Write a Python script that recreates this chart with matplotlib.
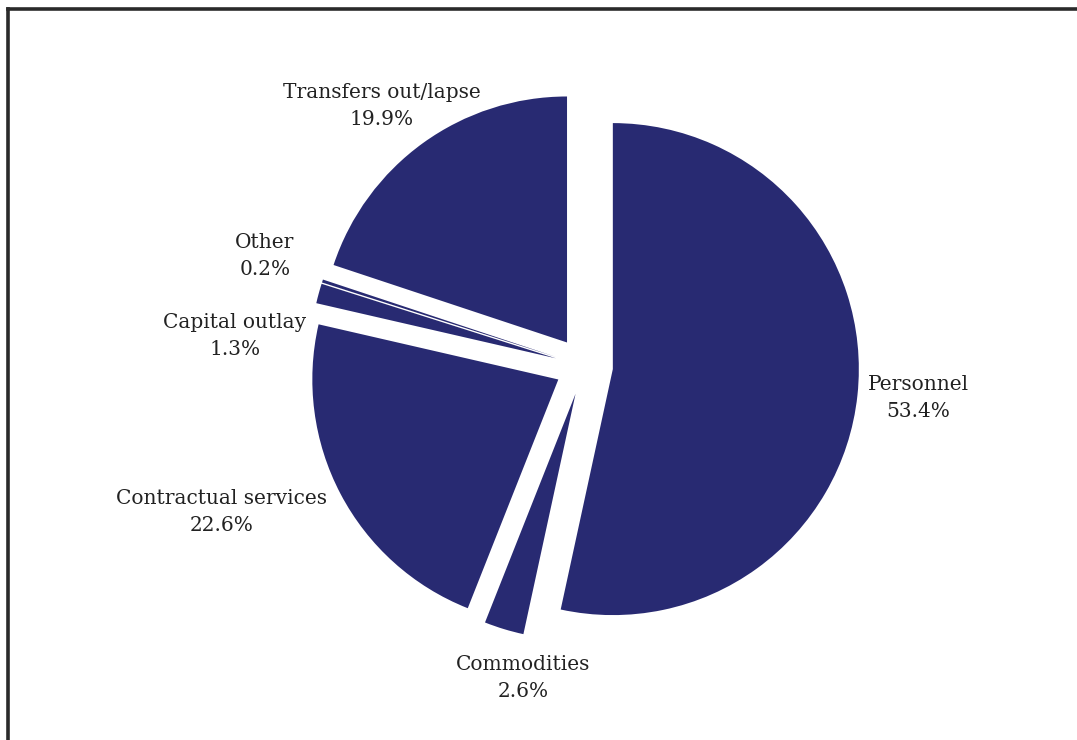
import matplotlib
matplotlib.use("Agg")
from matplotlib import pyplot as plt
from matplotlib.lines import Line2D

# spending shares, in percent
categories = ["Personnel", "Commodities", "Contractual services",
              "Capital outlay", "Other", "Transfers out/lapse"]
shares = [53.4, 2.6, 22.6, 1.3, 0.2, 19.9]

# label anchor points in pixel units (x right, y down)
label_pos = [(918, 398), (523, 678), (222, 512),
             (235, 336), (265, 256), (382, 106)]

W, H = 1077, 740
fig = plt.figure(figsize=(W / 100, H / 100), dpi=100)
ax = fig.add_axes([0, 0, 1, 1])
ax.set_xlim(0, W)
ax.set_ylim(0, H)
ax.set_aspect("equal")
ax.axis("off")

navy = "#282A72"
ax.pie(shares, center=(584, H - 366), radius=246, startangle=90,
       counterclock=False, explode=[29] * len(shares),
       colors=[navy] * len(shares), wedgeprops=dict(linewidth=0))
ax.set_xlim(0, W)
ax.set_ylim(0, H)

for name, val, (px, py) in zip(categories, shares, label_pos):
    ax.text(px, H - py, f"{name}\n{val:.1f}%", ha="center", va="center",
            fontsize=14.5, family="DejaVu Serif", color="#222222",
            linespacing=1.55)

# frame along top and left edges
fig.add_artist(Line2D([7.5 / W, 1], [1 - 8.5 / H, 1 - 8.5 / H],
                      color="#2a2a2a", lw=2.6, transform=fig.transFigure))
fig.add_artist(Line2D([7.5 / W, 7.5 / W], [0, 1 - 8.5 / H],
                      color="#2a2a2a", lw=2.6, transform=fig.transFigure))

fig.savefig("out.png", dpi=100)
